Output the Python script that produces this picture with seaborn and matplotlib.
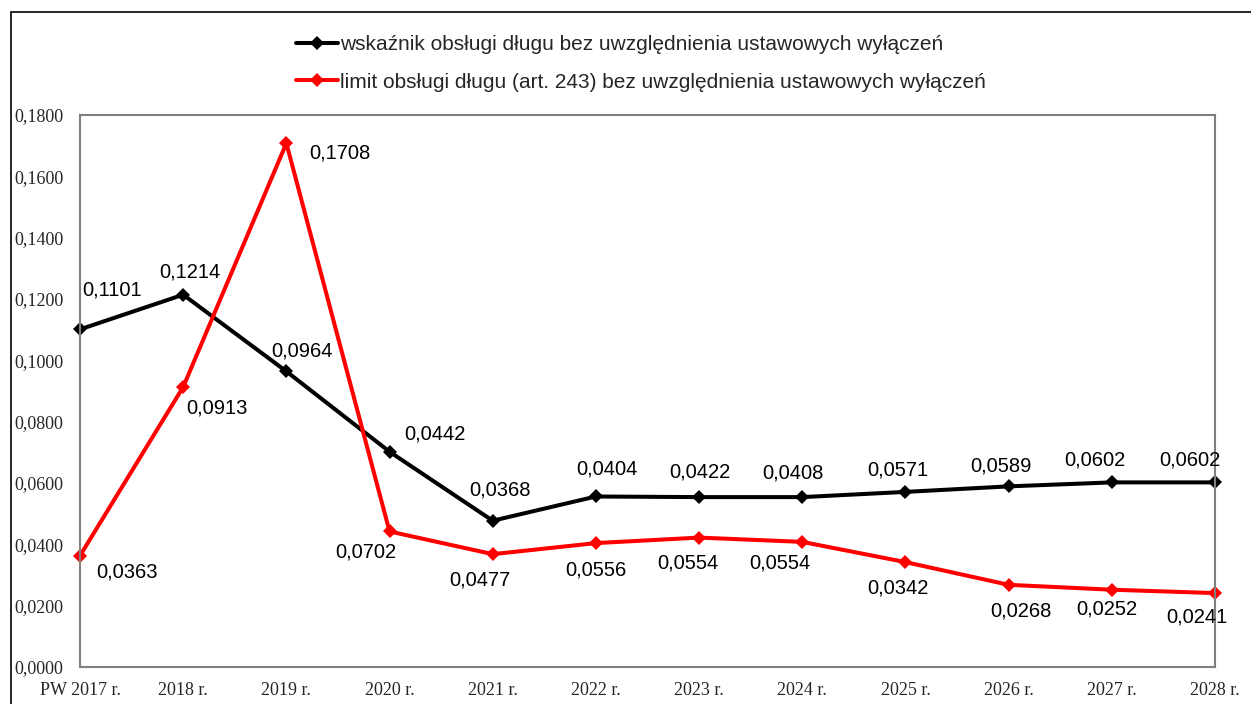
import matplotlib
matplotlib.use("Agg")
import matplotlib.pyplot as plt
import seaborn as sns
import pandas as pd
from matplotlib.patches import Rectangle
from matplotlib.lines import Line2D

years = ["PW 2017 r.", "2018 r.", "2019 r.", "2020 r.", "2021 r.", "2022 r.",
         "2023 r.", "2024 r.", "2025 r.", "2026 r.", "2027 r.", "2028 r."]
wskaznik = [0.1101, 0.1214, 0.0964, 0.0702, 0.0477, 0.0556,
            0.0554, 0.0554, 0.0571, 0.0589, 0.0602, 0.0602]
limit = [0.0363, 0.0913, 0.1708, 0.0442, 0.0368, 0.0404,
         0.0422, 0.0408, 0.0342, 0.0268, 0.0252, 0.0241]
# data labels as printed on the chart
wskaznik_labels = ["0,1101", "0,1214", "0,0964", "0,0442", "0,0368", "0,0404",
                   "0,0422", "0,0408", "0,0571", "0,0589", "0,0602", "0,0602"]
limit_labels = ["0,0363", "0,0913", "0,1708", "0,0702", "0,0477", "0,0556",
                "0,0554", "0,0554", "0,0342", "0,0268", "0,0252", "0,0241"]
name_w = "wskaźnik obsługi długu bez uwzględnienia ustawowych wyłączeń"
name_l = "limit obsługi długu (art. 243) bez uwzględnienia ustawowych wyłączeń"

# label offsets in pixels (dx, dy up)
off_w = [(32, 39), (7, 23), (16, 20), (45, 18), (7, 31), (11, 27),
         (1, 25), (-9, 24), (-8, 22), (-8, 20), (-17, 22), (-25, 22)]
off_l = [(47, -16), (34, -21), (54, -10), (-24, -21), (-13, -26), (0, -27),
         (-11, -25), (-22, -21), (-8, -26), (12, -26), (-5, -19), (-18, -24)]

sns.set_theme(style="white")
plt.rcParams['font.family'] = ['Liberation Sans', 'DejaVu Sans']

W, H = 1251, 704
fig = plt.figure(figsize=(W / 100, H / 100), dpi=100)
ax = fig.add_axes([80 / W, (H - 667) / H, (1215 - 80) / W, (667 - 115) / H])

df = pd.DataFrame({"x": list(range(len(years))) * 2,
                   "v": wskaznik + limit,
                   "s": [name_w] * len(years) + [name_l] * len(years)})
sns.lineplot(data=df, x="x", y="v", hue="s", palette=["#000000", "#ff0000"],
             marker="D", markersize=7.5, markeredgewidth=0, linewidth=2.9,
             ax=ax, legend=False)
for ln in ax.lines:
    ln.set_clip_on(False)

for i in range(len(years)):
    ax.annotate(wskaznik_labels[i], (i, wskaznik[i]), xytext=(off_w[i][0] * 0.72, off_w[i][1] * 0.72),
                textcoords="offset points", ha="center", va="center", fontsize=14.5, color="black")
    ax.annotate(limit_labels[i], (i, limit[i]), xytext=(off_l[i][0] * 0.72, off_l[i][1] * 0.72),
                textcoords="offset points", ha="center", va="center", fontsize=14.5, color="black")

ax.set_xlim(0, len(years) - 1)
ax.set_ylim(0, 0.18)
yt = [i * 0.02 for i in range(10)]
ax.set_yticks(yt)
ax.set_yticklabels([("%.4f" % t).replace(".", ",") for t in yt],
                   fontfamily="Liberation Serif", fontsize=13)
ax.set_xticks(range(len(years)))
ax.set_xticklabels(years, fontfamily="Liberation Serif", fontsize=13)
ax.tick_params(axis="x", length=0, pad=11)
ax.tick_params(axis="y", length=0, pad=12)
ax.set_xlabel("")
ax.set_ylabel("")
for sp in ax.spines.values():
    sp.set_color("#808080")
    sp.set_linewidth(1.5)

handles = [Line2D([], [], color="#000000", lw=2.9, marker="D", markersize=7.5, markeredgewidth=0),
           Line2D([], [], color="#ff0000", lw=2.9, marker="D", markersize=7.5, markeredgewidth=0)]
fig.legend(handles, [name_w, name_l], loc="upper left",
           bbox_to_anchor=(296 / W, 1 - 35 / H), frameon=False, fontsize=15.0,
           handlelength=2.0, handletextpad=0.1, labelspacing=0.9, borderaxespad=0,
           borderpad=0)

fig.patches.append(Rectangle((11 / W, -0.1), 1.2, 1 - 12 / H + 0.1, transform=fig.transFigure,
                             fill=False, edgecolor="black", linewidth=1.2))

fig.savefig("out.png", dpi=100)
